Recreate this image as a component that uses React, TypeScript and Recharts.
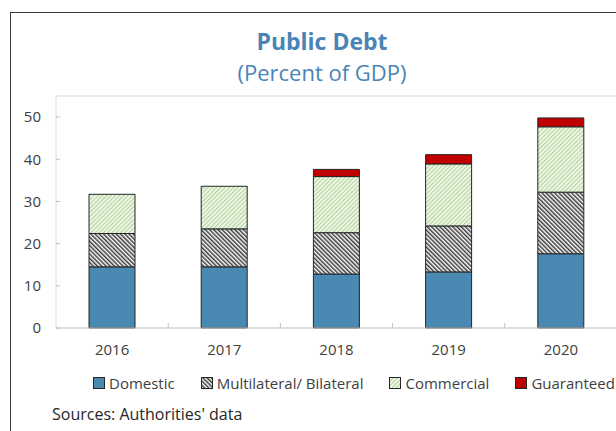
import React from "react";
import {
  Bar,
  BarChart,
  ReferenceLine,
  XAxis,
  YAxis,
} from "recharts";

const years = ["2016", "2017", "2018", "2019", "2020"];
const domestic = [14.5, 14.5, 12.8, 13.3, 17.6];
const multilateral = [7.9, 9.0, 9.8, 10.9, 14.6];
const commercial = [9.3, 10.1, 13.3, 14.7, 15.5];
const guaranteed = [0, 0, 1.7, 2.2, 2.1];
const yTicks = [0, 10, 20, 30, 40, 50];

const seriesNames = ["Domestic", "Multilateral/ Bilateral", "Commercial", "Guaranteed"];
const seriesKeys = ["domestic", "multilateral", "commercial", "guaranteed"];
const seriesFills = ["#4a89b1", "url(#hatchMulti)", "url(#hatchComm)", "#c00000"];

const data = years.map((year, i) => ({
  year,
  domestic: domestic[i],
  multilateral: multilateral[i],
  commercial: commercial[i],
  guaranteed: guaranteed[i],
}));

const font = "'Open Sans', sans-serif";

function YearTick(props: any) {
  const { x, y, payload, index } = props;
  const half = payload && payload.offset ? payload.offset : 56.1;
  return (
    <g>
      {index < years.length - 1 && (
        <line x1={x + half} x2={x + half} y1={y} y2={y - 5} stroke="#bfbfbf" />
      )}
      <text x={x} y={y + 27} textAnchor="middle" fill="#404040" fontSize={15} fontFamily={font}>
        {payload.value}
      </text>
    </g>
  );
}

function Patterns() {
  return (
    <svg width={0} height={0} style={{ position: "absolute" }}>
      <defs>
        <pattern id="hatchMulti" patternUnits="userSpaceOnUse" width={3} height={3} patternTransform="rotate(-45)">
          <rect width={3} height={3} fill="#ffffff" />
          <line x1={0.75} y1={0} x2={0.75} y2={3} stroke="#3a3a3a" strokeWidth={1.5} />
        </pattern>
        <pattern id="hatchComm" patternUnits="userSpaceOnUse" width={3} height={3} patternTransform="rotate(45)">
          <rect width={3} height={3} fill="#ffffff" />
          <line x1={0.75} y1={0} x2={0.75} y2={3} stroke="#b4d69b" strokeWidth={1.5} />
        </pattern>
      </defs>
    </svg>
  );
}

export default function App() {
  return (
    <div
      style={{
        position: "absolute",
        left: 0,
        top: 0,
        width: 616,
        height: 431,
        overflow: "hidden",
        background: "#fff",
        fontFamily: font,
      }}
    >
      <Patterns />
      <div
        style={{
          position: "absolute",
          left: 10,
          top: 12,
          width: 700,
          height: 500,
          border: "1.5px solid #3a3a3a",
        }}
      />
      <div
        style={{
          position: "absolute",
          left: 0,
          width: 644,
          top: 28,
          textAlign: "center",
          color: "#4a84b6",
          fontWeight: 700,
          fontSize: 23,
          lineHeight: "26px",
        }}
      >
        Public Debt
      </div>
      <div
        style={{
          position: "absolute",
          left: 0,
          width: 644,
          top: 59,
          textAlign: "center",
          color: "#4a84b6",
          fontSize: 22,
          lineHeight: "26px",
        }}
      >
        (Percent of GDP)
      </div>
      <div style={{ position: "absolute", left: 0, top: 0 }}>
        <BarChart
          width={640}
          height={431}
          data={data}
          margin={{ top: 96, right: 23, left: 0, bottom: 73 }}
          barSize={46}
        >
          <ReferenceLine y={55} stroke="#d9d9d9" />
          <XAxis
            dataKey="year"
            height={30}
            tickLine={false}
            tickSize={0}
            tickMargin={0}
            axisLine={{ stroke: "#bfbfbf" }}
            tick={(p: any) => <YearTick {...p} />}
          />
          <YAxis
            width={56}
            domain={[0, 55]}
            ticks={yTicks}
            interval={0}
            tickSize={-4}
            tickMargin={19}
            tickLine={{ stroke: "#bfbfbf" }}
            axisLine={{ stroke: "#d9d9d9" }}
            tick={{ fill: "#404040", fontSize: 15, fontFamily: font }}
          />
          {seriesKeys.map((k, i) => (
            <Bar
              key={k}
              dataKey={k}
              stackId="debt"
              fill={seriesFills[i]}
              stroke="#262626"
              strokeWidth={1}
              isAnimationActive={false}
            />
          ))}
        </BarChart>
      </div>
      <div
        style={{
          position: "absolute",
          left: 93,
          top: 374,
          display: "flex",
          gap: 26,
          whiteSpace: "nowrap",
          fontSize: 15,
          color: "#404040",
          lineHeight: "18px",
        }}
      >
        {seriesNames.map((name, i) => (
          <div key={name} style={{ display: "flex", alignItems: "center", gap: 4 }}>
            <svg width={12} height={12}>
              <rect x={0.5} y={0.5} width={11} height={11} fill={seriesFills[i]} stroke="#262626" />
            </svg>
            <span>{name}</span>
          </div>
        ))}
      </div>
      <div
        style={{
          position: "absolute",
          left: 52,
          top: 404,
          fontSize: 16,
          color: "#262626",
          lineHeight: "20px",
        }}
      >
        Sources: Authorities' data
      </div>
    </div>
  );
}
